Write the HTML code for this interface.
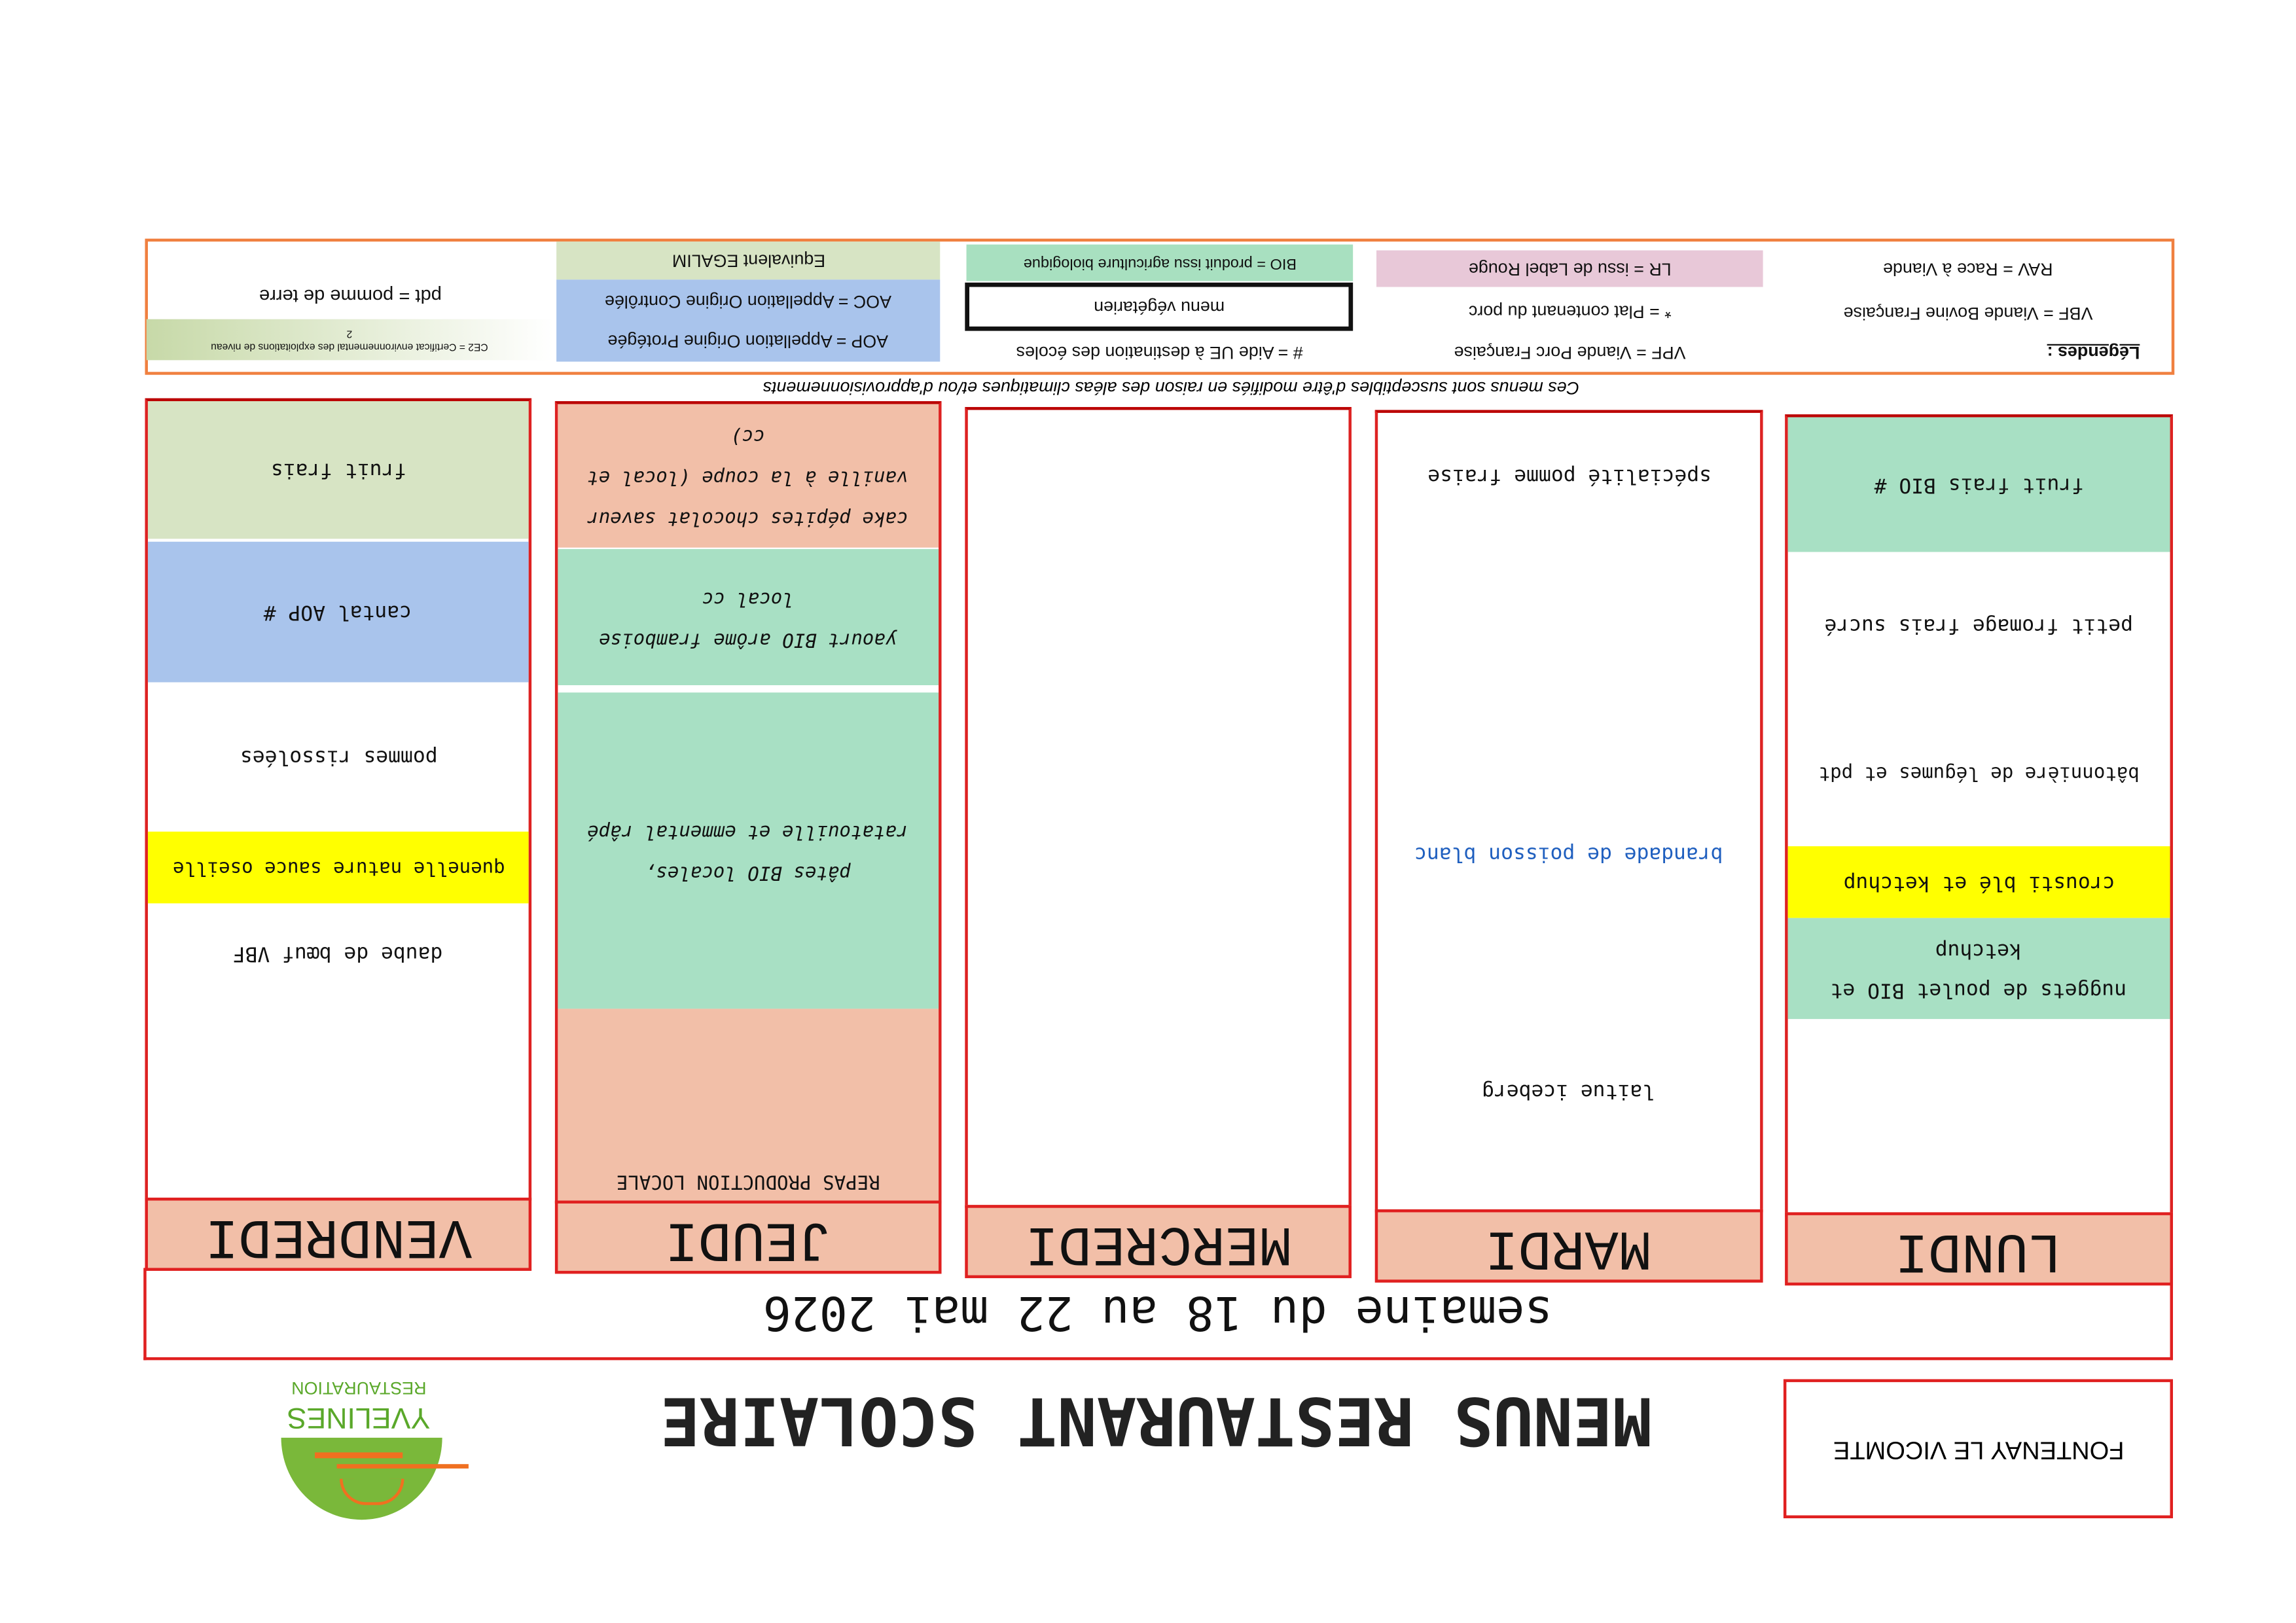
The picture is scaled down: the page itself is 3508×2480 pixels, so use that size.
<!DOCTYPE html>
<html><head><meta charset="utf-8"><style>
html,body{margin:0;padding:0;background:#fff;}
#wrap{width:3508px;height:2480px;overflow:hidden;position:relative;background:#fff;}
#c{position:absolute;left:0;top:0;width:1568px;height:1109px;transform:scale(2.2372);transform-origin:0 0;}
.b{position:absolute;box-sizing:border-box;display:flex;align-items:center;justify-content:center;text-align:center;}
.b>span{transform:rotate(180deg);display:block;}
.f{font-family:"DejaVu Sans Mono","Liberation Mono",monospace;font-size:14px;color:#111;}
.i{font-style:italic;}
.lg{font-family:"Liberation Sans",sans-serif;font-size:12px;color:#111;}
.day{font-family:"Liberation Mono",monospace;font-size:38px;color:#111;background:#f2bfa8;border:2px solid #e02020;}
.col{position:absolute;box-sizing:border-box;border:2px solid #d22;border-top-color:#b00;}
</style></head><body><div id="wrap"><div id="c">

<!-- legend -->
<div class="b" style="left:99px;top:163px;width:1386px;height:93px;border:2px solid #f08040;"></div>
<div class="b lg" style="left:1205px;top:170px;width:278px;height:28px"><span>RAV = Race à Viande</span></div>
<div class="b lg" style="left:1205px;top:200px;width:278px;height:28px"><span>VBF = Viande Bovine Française</span></div>
<div class="b lg" style="left:1380px;top:230px;width:100px;height:22px;font-weight:bold;"><span style="text-decoration:underline">Légendes :</span></div>
<div class="b lg" style="left:940px;top:171px;width:264px;height:25px;background:#e8c8d8"><span>LR = issu de Label Rouge</span></div>
<div class="b lg" style="left:940px;top:200px;width:264px;height:25px"><span>* = Plat contenant du porc</span></div>
<div class="b lg" style="left:940px;top:228px;width:264px;height:25px"><span>VPF = Viande Porc Française</span></div>
<div class="b lg" style="left:660px;top:167px;width:264px;height:25px;background:#a8e0c0;font-size:10.5px"><span>BIO = produit issu agriculture biologique</span></div>
<div class="b lg" style="left:659px;top:193px;width:265px;height:33px;border:3px solid #111"><span>menu végétarien</span></div>
<div class="b lg" style="left:660px;top:228px;width:264px;height:25px"><span># = Aide UE à destination des écoles</span></div>
<div class="b lg" style="left:380px;top:165px;width:262px;height:26px;background:#d7e4c4"><span>Equivalent EGALIM</span></div>
<div class="b lg" style="left:380px;top:191px;width:262px;height:56px;background:#a9c4ec"></div>
<div class="b lg" style="left:380px;top:193px;width:262px;height:26px"><span>AOC = Appellation Origine Contrôlée</span></div>
<div class="b lg" style="left:380px;top:220px;width:262px;height:26px"><span>AOP = Appellation Origine Protégée</span></div>
<div class="b lg" style="left:100px;top:190px;width:278px;height:25px;font-size:13px"><span>pdt = pomme de terre</span></div>
<div class="b lg" style="left:100px;top:218px;width:278px;height:28px;background:linear-gradient(to right,#c7d9a8,#fff);font-size:7px;line-height:9px"><span>CE2 = Certificat environnemental des exploitations de niveau<br>2</span></div>
<div class="b" style="left:300px;top:255px;width:1000px;height:20px;font-family:'Liberation Sans',sans-serif;font-style:italic;font-size:12px"><span>Ces menus sont susceptibles d'être modifiés en raison des aléas climatiques et/ou d'approvisionnements</span></div>

<!-- VENDREDI -->
<div class="col" style="left:99px;top:272px;width:264px;height:548px"></div>
<div class="b f" style="left:101px;top:274px;width:260px;height:94px;background:#d7e4c4"><span>fruit frais</span></div>
<div class="b f" style="left:101px;top:370px;width:260px;height:96px;background:#a9c4ec"><span>cantal AOP #</span></div>
<div class="b f" style="left:101px;top:466px;width:260px;height:102px"><span>pommes rissolées</span></div>
<div class="b f" style="left:101px;top:568px;width:260px;height:49px;background:#ffff00;font-size:13px"><span>quenelle nature sauce oseille</span></div>
<div class="b f" style="left:101px;top:628px;width:260px;height:46px"><span>daube de bœuf VBF</span></div>
<div class="b day" style="left:99px;top:818px;width:264px;height:50px"><span>VENDREDI</span></div>

<!-- JEUDI -->
<div class="col" style="left:379px;top:274px;width:264px;height:548px"></div>
<div class="b f i" style="left:381px;top:276px;width:260px;height:98px;background:#f2bfa8;line-height:28px;font-size:13px"><span>cake pépites chocolat saveur<br>vanille à la coupe (local et<br>cc)</span></div>
<div class="b f i" style="left:381px;top:375px;width:260px;height:93px;background:#a8e0c4;line-height:28px;font-size:13px"><span>yaourt BIO arôme framboise<br>local cc</span></div>
<div class="b f i" style="left:381px;top:473px;width:260px;height:216px;background:#a8e0c4;line-height:28px;font-size:13px"><span>pâtes BIO locales,<br>ratatouille et emmental râpé</span></div>
<div class="b f" style="left:381px;top:689px;width:260px;height:131px;background:#f2bfa8;align-items:flex-end;font-size:13px"><span style="padding-top:6px">REPAS PRODUCTION LOCALE</span></div>
<div class="b day" style="left:379px;top:820px;width:264px;height:50px"><span>JEUDI</span></div>

<!-- MERCREDI -->
<div class="col" style="left:659px;top:278px;width:264px;height:547px"></div>
<div class="b day" style="left:659px;top:823px;width:264px;height:50px"><span>MERCREDI</span></div>

<!-- MARDI -->
<div class="col" style="left:939px;top:280px;width:265px;height:548px"></div>
<div class="b f" style="left:941px;top:310px;width:261px;height:30px"><span>spécialité pomme fraise</span></div>
<div class="b f" style="left:941px;top:568px;width:261px;height:30px;color:#1f5fbf"><span>brandade de poisson blanc</span></div>
<div class="b f" style="left:941px;top:730px;width:261px;height:30px"><span>laitue iceberg</span></div>
<div class="b day" style="left:939px;top:826px;width:265px;height:50px"><span>MARDI</span></div>

<!-- LUNDI -->
<div class="col" style="left:1219px;top:283px;width:265px;height:548px"></div>
<div class="b f" style="left:1221px;top:285px;width:261px;height:92px;background:#a8e0c4"><span>fruit frais BIO #</span></div>
<div class="b f" style="left:1221px;top:412px;width:261px;height:30px"><span>petit fromage frais sucré</span></div>
<div class="b f" style="left:1221px;top:512px;width:261px;height:30px;font-size:13px"><span>bâtonnière de légumes et pdt</span></div>
<div class="b f" style="left:1221px;top:578px;width:261px;height:49px;background:#ffff00"><span>crousti blé et ketchup</span></div>
<div class="b f" style="left:1221px;top:627px;width:261px;height:69px;background:#a8e0c4;line-height:27px"><span>nuggets de poulet BIO et<br>ketchup</span></div>
<div class="b day" style="left:1219px;top:828px;width:265px;height:50px"><span>LUNDI</span></div>

<!-- title -->
<div class="b" style="left:98px;top:866px;width:1386px;height:63px;border:2px solid #e02020;border-top:none;font-family:'DejaVu Sans Mono',monospace;font-size:32px;color:#111"><span>semaine du 18 au 22 mai 2026</span></div>
<div class="b" style="left:400px;top:940px;width:780px;height:60px;font-family:'DejaVu Sans Mono',monospace;font-size:45px;font-weight:bold;color:#222"><span>MENUS RESTAURANT SCOLAIRE</span></div>
<div class="b" style="left:1218px;top:942px;width:266px;height:95px;border:2px solid #e02020;font-family:'Liberation Sans',sans-serif;font-size:17px"><span>FONTENAY LE VICOMTE</span></div>

<!-- logo -->
<div style="position:absolute;left:192px;top:982px;width:110px;height:56px;background:#7ab83a;border-radius:0 0 55px 55px/0 0 56px 56px;"></div>
<div style="position:absolute;left:215px;top:992px;width:60px;height:4px;background:#f07020"></div>
<div style="position:absolute;left:230px;top:1000px;width:90px;height:3px;background:#f07020"></div>
<div style="position:absolute;left:232px;top:1010px;width:40px;height:16px;border:2px solid #f07020;border-radius:0 0 20px 20px;border-top:none"></div>
<div class="b" style="left:185px;top:955px;width:120px;height:24px;font-family:'Liberation Sans',sans-serif;font-size:20px;color:#5aa82a"><span>YVELINES</span></div>
<div class="b" style="left:185px;top:940px;width:120px;height:16px;font-family:'Liberation Sans',sans-serif;font-size:12px;color:#5aa82a"><span>RESTAURATION</span></div>

</div></div></body></html>
